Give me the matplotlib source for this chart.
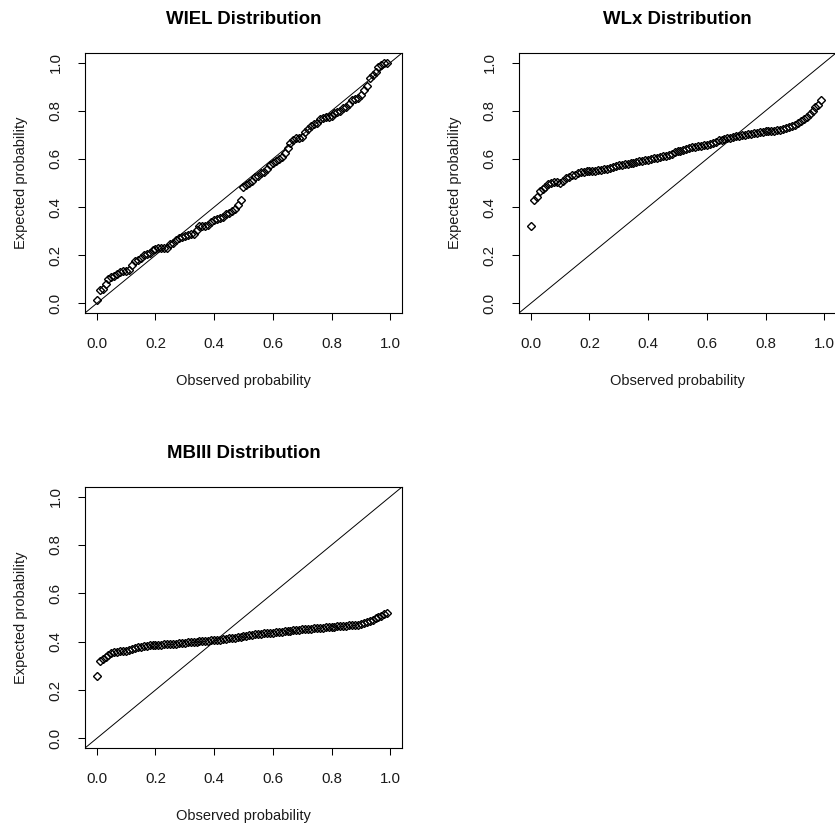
import numpy as np
import matplotlib
matplotlib.use('Agg')
import matplotlib.pyplot as plt

plt.rcParams['font.family'] = ['Liberation Sans', 'DejaVu Sans']

# observed probabilities (same sample for all three fits)
observed = [
  0.00, 0.01, 0.02, 0.03, 0.04, 0.05, 0.06, 0.07, 0.08, 0.09,
  0.10, 0.11, 0.12, 0.13, 0.14, 0.15, 0.16, 0.17, 0.18, 0.19,
  0.20, 0.21, 0.22, 0.23, 0.24, 0.25, 0.26, 0.27, 0.28, 0.29,
  0.30, 0.31, 0.32, 0.33, 0.34, 0.35, 0.36, 0.37, 0.38, 0.39,
  0.40, 0.41, 0.42, 0.43, 0.44, 0.45, 0.46, 0.47, 0.48, 0.49,
  0.50, 0.51, 0.52, 0.53, 0.54, 0.55, 0.56, 0.57, 0.58, 0.59,
  0.60, 0.61, 0.62, 0.63, 0.64, 0.65, 0.66, 0.67, 0.68, 0.69,
  0.70, 0.71, 0.72, 0.73, 0.74, 0.75, 0.76, 0.77, 0.78, 0.79,
  0.80, 0.81, 0.82, 0.83, 0.84, 0.85, 0.86, 0.87, 0.88, 0.89,
  0.90, 0.91, 0.92, 0.93, 0.94, 0.95, 0.96, 0.97, 0.98, 0.99]

# expected probabilities under each fitted distribution
wiel = [
  0.014, 0.055, 0.060, 0.080, 0.100, 0.110, 0.115, 0.120, 0.130, 0.135,
  0.135, 0.140, 0.160, 0.175, 0.180, 0.190, 0.200, 0.205, 0.210, 0.220,
  0.225, 0.228, 0.230, 0.230, 0.232, 0.245, 0.250, 0.262, 0.270, 0.275,
  0.280, 0.285, 0.287, 0.290, 0.305, 0.320, 0.322, 0.322, 0.325, 0.340,
  0.345, 0.350, 0.355, 0.360, 0.370, 0.375, 0.385, 0.390, 0.410, 0.430,
  0.485, 0.490, 0.500, 0.510, 0.525, 0.530, 0.540, 0.545, 0.560, 0.575,
  0.585, 0.590, 0.600, 0.610, 0.625, 0.645, 0.665, 0.680, 0.685, 0.687,
  0.690, 0.710, 0.725, 0.735, 0.745, 0.750, 0.765, 0.772, 0.775, 0.775,
  0.778, 0.790, 0.795, 0.800, 0.810, 0.815, 0.830, 0.845, 0.850, 0.855,
  0.865, 0.885, 0.905, 0.935, 0.950, 0.960, 0.980, 0.990, 0.998, 1.000]

wlx = [
  0.320, 0.430, 0.440, 0.465, 0.475, 0.485, 0.495, 0.500, 0.503, 0.503,
  0.500, 0.510, 0.520, 0.527, 0.532, 0.535, 0.540, 0.545, 0.546, 0.548,
  0.548, 0.549, 0.550, 0.552, 0.555, 0.557, 0.560, 0.563, 0.567, 0.571,
  0.574, 0.576, 0.578, 0.580, 0.582, 0.584, 0.587, 0.590, 0.593, 0.595,
  0.597, 0.600, 0.602, 0.605, 0.608, 0.611, 0.614, 0.617, 0.622, 0.627,
  0.632, 0.635, 0.638, 0.641, 0.645, 0.648, 0.650, 0.652, 0.655, 0.657,
  0.659, 0.663, 0.667, 0.672, 0.677, 0.680, 0.683, 0.686, 0.689, 0.692,
  0.694, 0.696, 0.698, 0.700, 0.703, 0.705, 0.707, 0.709, 0.711, 0.713,
  0.714, 0.716, 0.717, 0.718, 0.720, 0.722, 0.725, 0.728, 0.732, 0.737,
  0.740, 0.750, 0.757, 0.765, 0.775, 0.785, 0.800, 0.815, 0.825, 0.845]

mbiii = [
  0.258, 0.320, 0.327, 0.335, 0.345, 0.352, 0.356, 0.358, 0.360, 0.361,
  0.362, 0.364, 0.370, 0.374, 0.378, 0.380, 0.382, 0.384, 0.385, 0.386,
  0.387, 0.388, 0.388, 0.389, 0.390, 0.390, 0.391, 0.392, 0.393, 0.395,
  0.396, 0.397, 0.398, 0.399, 0.400, 0.401, 0.402, 0.403, 0.404, 0.405,
  0.406, 0.407, 0.408, 0.410, 0.412, 0.414, 0.415, 0.417, 0.419, 0.421,
  0.423, 0.425, 0.427, 0.429, 0.431, 0.432, 0.433, 0.434, 0.436, 0.437,
  0.438, 0.439, 0.440, 0.442, 0.443, 0.444, 0.445, 0.447, 0.448, 0.450,
  0.451, 0.452, 0.453, 0.454, 0.455, 0.456, 0.457, 0.458, 0.459, 0.460,
  0.461, 0.462, 0.463, 0.463, 0.464, 0.465, 0.467, 0.469, 0.470, 0.471,
  0.472, 0.476, 0.481, 0.486, 0.491, 0.497, 0.503, 0.508, 0.514, 0.520]

titles = ['WIEL Distribution', 'WLx Distribution', 'MBIII Distribution']
series = [wiel, wlx, mbiii]
ticks = [0.0, 0.2, 0.4, 0.6, 0.8, 1.0]

fig = plt.figure(figsize=(8.35, 8.26), dpi=100)
# panel rectangles in figure fractions (2x2 layout, last cell empty)
rects = [
  [0.1018, 0.6211, 0.3796, 0.3147],
  [0.6216, 0.6211, 0.3796, 0.3147],
  [0.1018, 0.0944, 0.3796, 0.3160]]

txt = '#1a1a1a'
for rect, title, y in zip(rects, titles, series):
  ax = fig.add_axes(rect)
  ax.plot(observed, y, linestyle='none', marker='D', markersize=3.9,
          markerfacecolor='none', markeredgecolor='black', markeredgewidth=1.0)
  ax.axline((0, 0), slope=1, color='black', linewidth=0.7)
  ax.set_xlim(-0.04, 1.04)
  ax.set_ylim(-0.04, 1.04)
  ax.set_xticks(ticks)
  ax.set_yticks(ticks)
  ax.set_xticklabels(['%.1f' % t for t in ticks])
  ax.set_yticklabels(['%.1f' % t for t in ticks], rotation=90, va='center')
  ax.tick_params(length=5, width=0.75, labelsize=10.8, labelcolor=txt)
  ax.tick_params(axis='x', pad=12)
  ax.tick_params(axis='y', pad=11)
  for s in ax.spines.values():
    s.set_linewidth(0.8)
  ax.set_title(title, fontsize=13.4, fontweight='bold', pad=21)
  ax.set_xlabel('Observed probability', fontsize=10.5, color=txt)
  ax.set_ylabel('Expected probability', fontsize=10.5, color=txt)
  ax.xaxis.set_label_coords(0.5, -0.235)
  ax.yaxis.set_label_coords(-0.18, 0.5)

plt.savefig('out.png', dpi=100)
